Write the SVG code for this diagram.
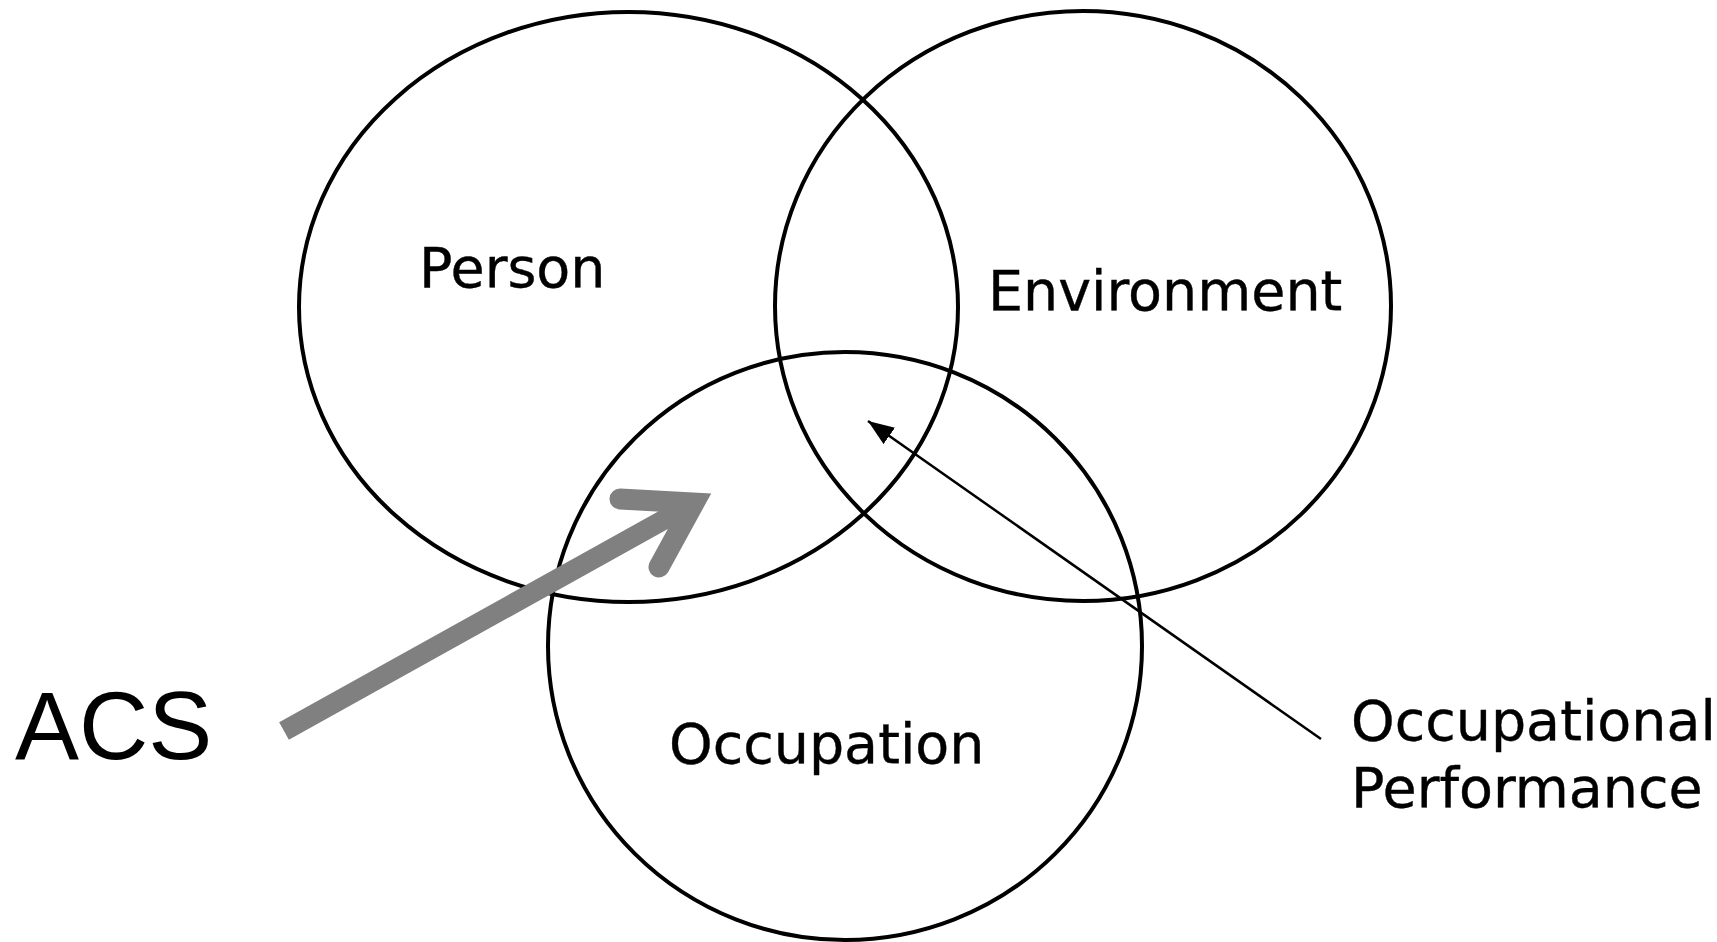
<svg xmlns="http://www.w3.org/2000/svg" width="1717" height="942" viewBox="0 0 1717 942">
  <defs>
    <style>
      .circle { fill: none; stroke: #000; stroke-width: 4; }
      .label { font-family: "DejaVu Sans", Verdana, sans-serif; font-size: 55.5px; fill: #000; stroke: #000; stroke-width: 0.4; }
      .acs { font-family: "Liberation Sans", Arial, sans-serif; font-size: 96px; fill: #000; }
    </style>
    <marker id="tri2" viewBox="0 0 26 20" refX="26" refY="10" markerWidth="26" markerHeight="20" markerUnits="userSpaceOnUse" orient="auto">
      <path d="M0,0 L26,10 L0,20 z" fill="#000"/>
    </marker>
  </defs>
  <rect width="1717" height="942" fill="#fff"/>
  <g id="person">
    <ellipse class="circle" cx="628.5" cy="307" rx="329.5" ry="295"/>
    <text class="label" x="419" y="287">Person</text>
  </g>
  <g id="environment">
    <ellipse class="circle" cx="1083" cy="306" rx="308" ry="295"/>
    <text class="label" x="988" y="310">Environment</text>
  </g>
  <g id="occupation">
    <ellipse class="circle" cx="845" cy="646" rx="297" ry="294"/>
    <text class="label" x="669" y="763">Occupation</text>
  </g>
  <g id="occupational-performance">
    <text class="label" x="1351" y="740">Occupational</text>
    <text class="label" x="1351" y="807">Performance</text>
  </g>
  <g id="acs">
    <text class="acs" x="15" y="759">ACS</text>
  </g>
  <g id="connectors">
    <line x1="1321" y1="739" x2="868" y2="421" stroke="#000" stroke-width="2.5" marker-end="url(#tri2)"/>
    <line x1="284" y1="731" x2="694" y2="503" stroke="#808080" stroke-width="20" stroke-linecap="butt"/>
    <polyline points="620,499 694,503 659,567" fill="none" stroke="#808080" stroke-width="21" stroke-linecap="round" stroke-linejoin="miter"/>
  </g>
</svg>
